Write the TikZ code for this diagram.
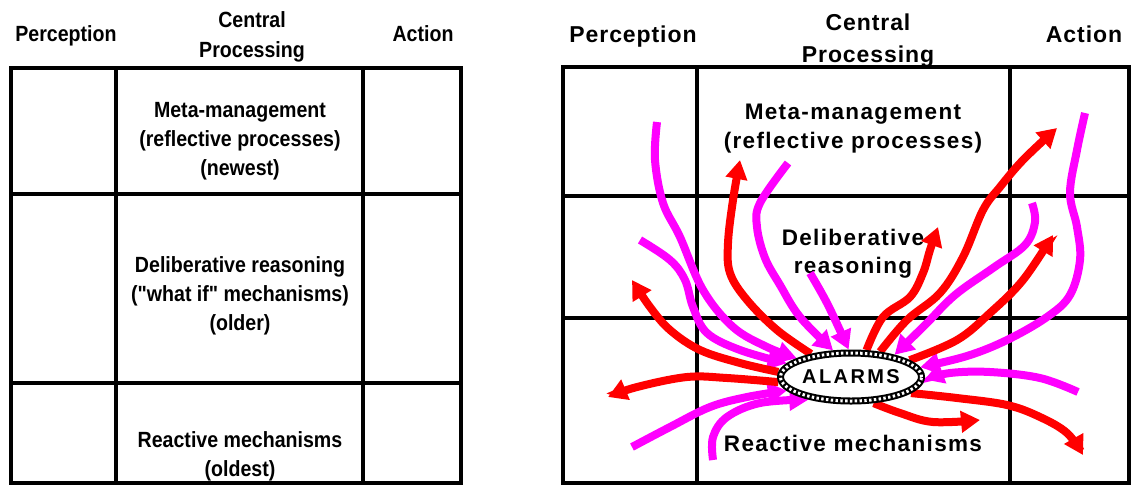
\documentclass[tikz,border=0pt]{standalone}
\usepackage{fontspec}
\setmainfont{Liberation Sans}
\newfontfamily\narrowbold{Liberation Sans}[FakeStretch=0.89]
\newfontfamily\widebold{Liberation Sans}[LetterSpace=6]
\newfontfamily\headbold{Liberation Sans}[LetterSpace=4]
\newfontfamily\alarmbold{Liberation Sans}[LetterSpace=12]
\usetikzlibrary{arrows.meta,shapes.geometric}
\definecolor{inpink}{RGB}{255,0,255}
\definecolor{outred}{RGB}{255,0,0}
\pgfdeclarelayer{front}
\pgfsetlayers{main,front}
\tikzset{
  ltext/.style={anchor=base, inner sep=0pt, font=\narrowbold\bfseries\fontsize{22}{26}\selectfont},
  rhead/.style={anchor=base, inner sep=0pt, font=\headbold\bfseries\fontsize{23}{27}\selectfont},
  rtext/.style={anchor=base, inner sep=0pt, font=\widebold\bfseries\fontsize{22.5}{26}\selectfont},
  cellline/.style={line width=3.5pt, line cap=rect},
  flowtip/.style={-{Triangle[length=19pt,width=21pt]}},
  inflow/.style={draw=inpink, line width=8pt, flowtip},
  outflow/.style={draw=outred, line width=8pt, flowtip},
  alarmnode/.style={ellipse, draw=black, fill=white, line width=7pt,
    minimum width=141pt, minimum height=48pt, inner sep=0pt, outer sep=3.5pt,
    font=\alarmbold\bfseries\fontsize{20}{22}\selectfont,
    postaction={draw=white, line width=3pt, dash pattern=on 2.4pt off 2.4pt}},
}
\begin{document}
\begin{tikzpicture}[x=1pt, y=-1pt]
\useasboundingbox (0,0) rectangle (1131,485);

% ---------- layered architecture (left) ----------
\draw[cellline] (11,68) rectangle (461,483);
\draw[cellline] (116,68) -- (116,483);
\draw[cellline] (363,68) -- (363,483);
\draw[cellline] (11,194) -- (461,194);
\draw[cellline] (11,383) -- (461,383);

\node[ltext] (lper)  at (66,41)  {Perception};
\node[ltext] (lcen1) at (252,27) {Central};
\node[ltext] (lcen2) at (252,57) {Processing};
\node[ltext] (lact)  at (423,41) {Action};

\node[ltext] (lm1) at (240,117) {Meta-management};
\node[ltext] (lm2) at (240,146) {(reflective processes)};
\node[ltext] (lm3) at (240,175) {(newest)};
\node[ltext] (ld1) at (240,272) {Deliberative reasoning};
\node[ltext] (ld2) at (240,301) {("what if" mechanisms)};
\node[ltext] (ld3) at (240,330) {(older)};
\node[ltext] (lr1) at (240,447) {Reactive mechanisms};
\node[ltext] (lr2) at (240,476) {(oldest)};

% ---------- alarm system (right) ----------
\draw[cellline, line width=4pt] (563,67) rectangle (1129,483);
\draw[cellline] (697,67) -- (697,483);
\draw[cellline] (1010,67) -- (1010,483);
\draw[cellline] (563,196) -- (1129,196);
\draw[cellline] (563,318) -- (1129,318);

\node[rhead] (rper)  at (633,42)  {Perception};
\node[rhead] (rcen1) at (868,30)  {Central};
\node[rhead] (rcen2) at (868,62)  {Processing};
\node[rhead] (ract)  at (1084,42) {Action};

\node[rtext] (rm1) at (853,119) {Meta-management};
\node[rtext] (rm2) at (853,148) {(reflective processes)};
\node[rtext] (rd1) at (853,245) {Deliberative};
\node[rtext] (rd2) at (853,273) {reasoning};
\node[rtext] (rr1) at (853,451) {Reactive mechanisms};

\begin{pgfonlayer}{front}
  \node[alarmnode] (al) at (851,377) {ALARMS};
\end{pgfonlayer}

% free ends of the flows
\coordinate (m1) at (657,122);
\coordinate (m2) at (640,240);
\coordinate (m3) at (788,163);
\coordinate (m4) at (810,273);
\coordinate (m5) at (1032,203);
\coordinate (m6) at (1085,113);
\coordinate (m7) at (1078,392);
\coordinate (m8) at (632,447);
\coordinate (m9) at (713,460);
\coordinate (r1) at (632,280);
\coordinate (r2) at (608,397);
\coordinate (r3) at (740,160);
\coordinate (r4) at (938,227);
\coordinate (r5) at (1057,128);
\coordinate (r6) at (1053,235);
\coordinate (r7) at (1083,455);
\coordinate (r8) at (980,420);

% signals flowing into the alarms
\draw[inflow] plot[smooth, tension=0.6] coordinates {(m1) (655,160) (663,203) (680,237) (703,290) (733,327) (767,347) (al.161)};
\draw[inflow] plot[smooth, tension=0.6] coordinates {(m2) (670,260) (685,280) (693,307) (707,333) (740,350) (al.168)};
\draw[inflow] plot[smooth, tension=0.6] coordinates {(m3) (760,203) (757,227) (765,258) (780,285) (800,317) (al.124)};
\draw[inflow] plot[smooth, tension=0.6] coordinates {(m4) (828,305) (al.95)};
\draw[inflow] plot[smooth, tension=0.6] coordinates {(m5) (1035,222) (1025,245) (993,268) (955,295) (925,325) (al.27)};
\draw[inflow] plot[smooth, tension=0.6] coordinates {(m6) (1077,150) (1070,193) (1077,227) (1080,260) (1070,295) (1047,317) (1007,340) (967,356) (al.8)};
\draw[inflow] plot[smooth, tension=0.6] coordinates {(m7) (1040,378) (990,372) (950,373) (al.-2)};
\draw[inflow] plot[smooth, tension=0.6] coordinates {(m8) (670,427) (710,407) (747,397) (al.192)};
\draw[inflow] plot[smooth, tension=0.6] coordinates {(m9) (713,437) (727,417) (760,403) (al.208)};

% signals sent out by the alarms
\draw[outflow] plot[smooth, tension=0.6] coordinates {(al.176) (740,363) (700,350) (670,330) (650,307) (r1)};
\draw[outflow] plot[smooth, tension=0.6] coordinates {(al.184) (727,378) (687,377) (637,387) (r2)};
\draw[outflow] plot[smooth, tension=0.6] coordinates {(al.150) (777,330) (747,300) (730,273) (728,243) (733,200) (r3)};
\draw[outflow] plot[smooth, tension=0.6] coordinates {(al.60) (883,317) (910,297) (923,273) (930,250) (r4)};
\draw[outflow] plot[smooth, tension=0.6] coordinates {(al.41) (907,320) (940,293) (963,257) (983,210) (1000,187) (1023,160) (r5)};
\draw[outflow] plot[smooth, tension=0.6] coordinates {(al.16) (957,340) (990,313) (1023,280) (r6)};
\draw[outflow] plot[smooth, tension=0.6] coordinates {(al.-15) (957,398) (1007,405) (1040,417) (1067,433) (r7)};
\draw[outflow] plot[smooth, tension=0.6] coordinates {(al.-49) (900,413) (933,422) (r8)};
\end{tikzpicture}
\end{document}
